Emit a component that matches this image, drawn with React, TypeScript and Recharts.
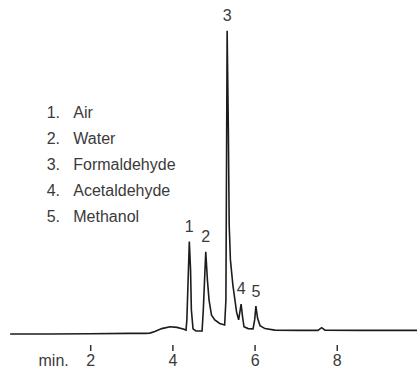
import { ComposedChart, Line, Scatter, XAxis, YAxis, LabelList } from 'recharts'

// retention time (min) and detector signal
const times = [
  0.04, 1.01, 1.98, 2.96, 3.32, 3.44, 3.56, 3.73, 3.93, 4.1, 4.25, 4.32,
  4.34, 4.4, 4.43, 4.45, 4.49, 4.56, 4.71,
  4.74, 4.8, 4.84, 4.88, 4.94, 5.02, 5.14, 5.26,
  5.29, 5.32, 5.35, 5.37, 5.4, 5.46, 5.55, 5.6,
  5.66, 5.69, 5.73, 5.83, 5.95,
  5.99, 6.02, 6.06, 6.12, 6.24, 6.48,
  7.09, 7.53, 7.62, 7.7, 8.55, 9.94,
]
const signal = [
  0, 0, 0.1, 0.2, 0.2, 0.3, 0.8, 1.8, 2.4, 2.2, 1.7, 1.3,
  4.7, 30.8, 21.3, 8, 1.7, 1.0, 1.0,
  8, 27.4, 18, 11.3, 6.3, 4.7, 3.5, 3.0,
  11.3, 101.1, 68, 36.3, 24.7, 16.3, 7.3, 4.7,
  10, 6.3, 2.4, 1.8, 1.7,
  4.7, 9.3, 5.3, 2.8, 1.8, 1.3,
  1.2, 1.2, 2.1, 1.3, 1.2, 1.2,
]

const peakTimes = [4.4, 4.8, 5.32, 5.66, 6.02]
const peakHeights = [30.8, 27.4, 101.1, 10, 9.3]
const peakLabels = ['1', '2', '3', '4', '5']
const compounds = ['Air', 'Water', 'Formaldehyde', 'Acetaldehyde', 'Methanol']

const xTicks = [2, 4, 6, 8]

const trace = times.map((t, i) => ({ t, v: signal[i] }))
const peaks = peakTimes.map((t, i) => ({ t, v: peakHeights[i], label: peakLabels[i] }))

const FONT = '"Liberation Sans", Arial, sans-serif'
const INK = '#3a3a3a'

function TimeTick(props: any) {
  const { x, y, payload } = props
  return (
    <g>
      <line x1={x} x2={x} y1={y + 5} y2={y + 11} stroke="#333" strokeWidth={1.5} />
      <text x={x} y={y + 26} textAnchor="middle" fontSize={16} fill={INK} fontFamily={FONT}>
        {payload.value}
      </text>
    </g>
  )
}

function MinLabel(props: any) {
  const { viewBox } = props
  return (
    <text x={viewBox.x + 30} y={viewBox.y + 26} fontSize={16} fill={INK} fontFamily={FONT}>
      min.
    </text>
  )
}

export default function App() {
  return (
    <div style={{ position: 'relative', width: 417, height: 370, background: '#fff' }}>
      <style>{'body{margin:0}'}</style>
      <ComposedChart
        width={417}
        height={370}
        margin={{ top: 4, right: 0, left: 8.5, bottom: 0 }}
      >
        <XAxis
          dataKey="t"
          type="number"
          domain={[0, 9.94]}
          ticks={xTicks}
          axisLine={false}
          tickLine={false}
          tickSize={0}
          tickMargin={0}
          height={30}
          tick={<TimeTick />}
          label={<MinLabel />}
          allowDataOverflow
        />
        <YAxis type="number" dataKey="v" domain={[-2, 110]} hide allowDataOverflow />
        <Line
          data={trace}
          dataKey="v"
          type="linear"
          stroke="#1c1c1c"
          strokeWidth={1.6}
          dot={false}
          activeDot={false}
          isAnimationActive={false}
        />
        <Scatter data={peaks} dataKey="v" shape={() => <g />} isAnimationActive={false}>
          <LabelList
            dataKey="label"
            position="top"
            offset={5}
            fontSize={16}
            fill={INK}
            fontFamily={FONT}
          />
        </Scatter>
      </ComposedChart>
      <div
        style={{
          position: 'absolute',
          left: 46.7,
          top: 100,
          fontFamily: FONT,
          fontSize: 16,
          lineHeight: '26px',
          color: INK,
        }}
      >
        {compounds.map((name, i) => (
          <div key={name} style={{ display: 'flex' }}>
            <span style={{ width: 26.6 }}>{i + 1}.</span>
            <span>{name}</span>
          </div>
        ))}
      </div>
    </div>
  )
}
